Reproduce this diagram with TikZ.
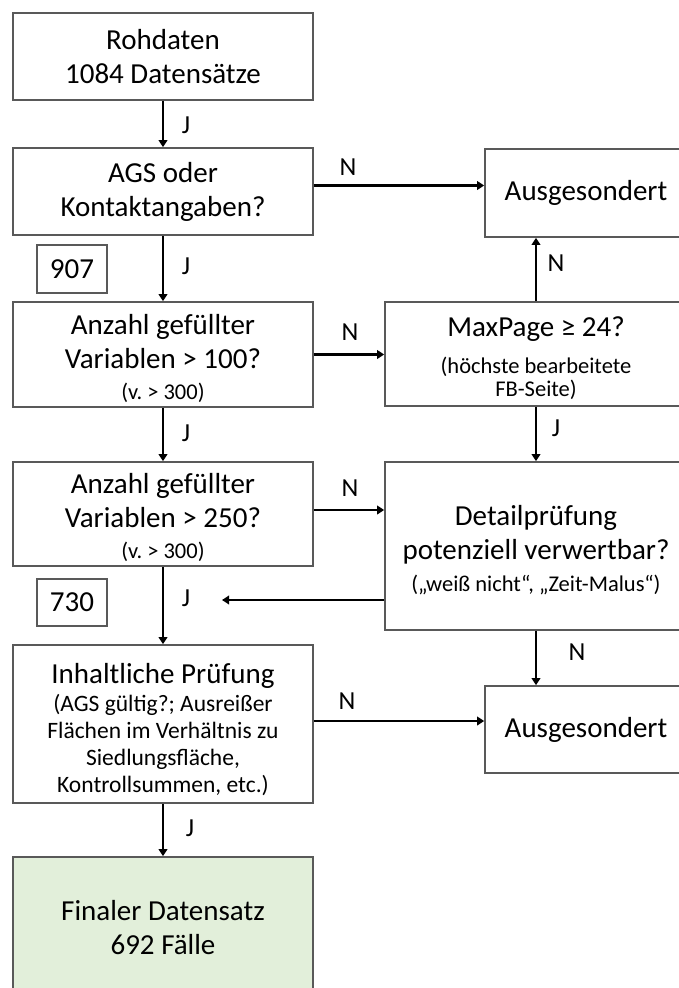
\documentclass[tikz,border=0pt]{standalone}
\usepackage{fontspec}
\setmainfont{Carlito}
\usetikzlibrary{arrows.meta}
\definecolor{boxgray}{HTML}{595959}
\definecolor{finalgreen}{HTML}{E2EFDA}
\newcommand{\maintxt}{\fontsize{29}{34}\selectfont}
\newcommand{\subtxt}{\fontsize{22.5}{25}\selectfont}
\newcommand{\inhtxt}{\fontsize{23.5}{27}\selectfont}
\newcommand{\topstrut}[1]{\rule{0pt}{#1}}
\frenchspacing
\begin{document}
\begin{tikzpicture}[x=1pt, y=-1pt,
    box/.style={draw=boxgray, line width=1.6pt, align=center, inner sep=0pt, font=\maintxt},
    arr/.style={line width=2.8pt, -{Triangle[length=7pt, width=8.5pt]}},
    lbl/.style={font=\fontsize{26}{30}\selectfont}]
    \useasboundingbox (0, 0) rectangle (679, 988);
    \clip (0, 0) rectangle (679, 988);

    % left column
    \node[box, minimum width=300pt, minimum height=87pt] (raw) at (163, 56.5) {Rohdaten\\1084 Datensätze};
    \node[box, minimum width=300pt, minimum height=87pt] (ags) at (163, 191.5) {AGS oder\\Kontaktangaben?};
    \node[box, minimum width=300pt, minimum height=105pt] (var100) at (163, 354.5) {\topstrut{28pt}Anzahl gefüllter\\Variablen > 100?\\[-3pt]{\subtxt (v. > 300)}};
    \node[box, minimum width=300pt, minimum height=104pt] (var250) at (163, 514) {\topstrut{28pt}Anzahl gefüllter\\Variablen > 250?\\[-3pt]{\subtxt (v. > 300)}};
    \node[box, minimum width=300pt, minimum height=158pt, font=\inhtxt] (inh) at (163, 724) {{\maintxt\topstrut{32pt}Inhaltliche Prüfung}\\[1pt](AGS gültig?; Ausreißer\\Flächen im Verhältnis zu\\Siedlungsfläche,\\Kontrollsummen, etc.)};
    \node[box, fill=finalgreen, minimum width=300pt, minimum height=141pt] (final) at (163, 927.5) {Finaler Datensatz\\692 Fälle};

    % counts
    \node[box, minimum width=70pt, minimum height=48pt] (n907) at (72, 269) {907};
    \node[box, minimum width=70pt, minimum height=47pt] (n730) at (72, 602.5) {730};

    % right column
    \node[box, minimum width=302pt, minimum height=88pt] (aus1) at (636, 193) {\hspace*{-100pt}Ausgesondert};
    \node[box, minimum width=302pt, minimum height=104pt] (maxp) at (536, 354) {\topstrut{28pt}MaxPage ≥ 24?\\[3pt]{\subtxt (höchste bearbeitete}\\[-11pt]{\subtxt FB-Seite)}};
    \node[box, minimum width=302pt, minimum height=168pt] (detail) at (536, 546) {\topstrut{28pt}Detailprüfung\\potenziell verwertbar?\\[-2pt]{\subtxt („weiß nicht“, „Zeit-Malus“)}};
    \node[box, minimum width=302pt, minimum height=87pt] (aus2) at (636, 729.5) {\hspace*{-100pt}Ausgesondert};
    \coordinate (back) at (222, 600);

    % connectors
    \draw[arr] (raw) -- (ags);
    \draw[arr] (ags) -- (var100);
    \draw[arr] (var100) -- (var250);
    \draw[arr] (var250) -- (inh);
    \draw[arr] (inh) -- (final);
    \draw[arr] ([yshift=6pt]ags.east) -- ([yshift=6pt]ags.east -| aus1.west);
    \draw[arr] (var100.east) -- (var100.east -| maxp.west);
    \draw[arr] (maxp.north) -- (maxp.north |- aus1.south);
    \draw[arr] (maxp) -- (detail);
    \draw[arr] ([yshift=4pt]var250.east) -- ([yshift=4pt]var250.east -| detail.west);
    \draw[arr] (detail.west |- back) -- (back);
    \draw[arr] ([yshift=3pt]inh.east) -- ([yshift=3pt]inh.east -| aus2.west);
    \draw[arr] (detail.south) -- (detail.south |- aus2.north);

    % labels
    \node[lbl] (j1) at (186, 125) {J};
    \node[lbl] (j2) at (186, 266) {J};
    \node[lbl] (j3) at (186, 433) {J};
    \node[lbl] (j4) at (186, 598) {J};
    \node[lbl] (j5) at (190, 828) {J};
    \node[lbl] (n1) at (348, 167) {N};
    \node[lbl] (n2) at (556, 263) {N};
    \node[lbl] (n3) at (350, 332) {N};
    \node[lbl] (j6) at (556, 428) {J};
    \node[lbl] (n4) at (350, 488) {N};
    \node[lbl] (n5) at (577, 652) {N};
    \node[lbl] (n6) at (347, 701) {N};
\end{tikzpicture}
\end{document}
